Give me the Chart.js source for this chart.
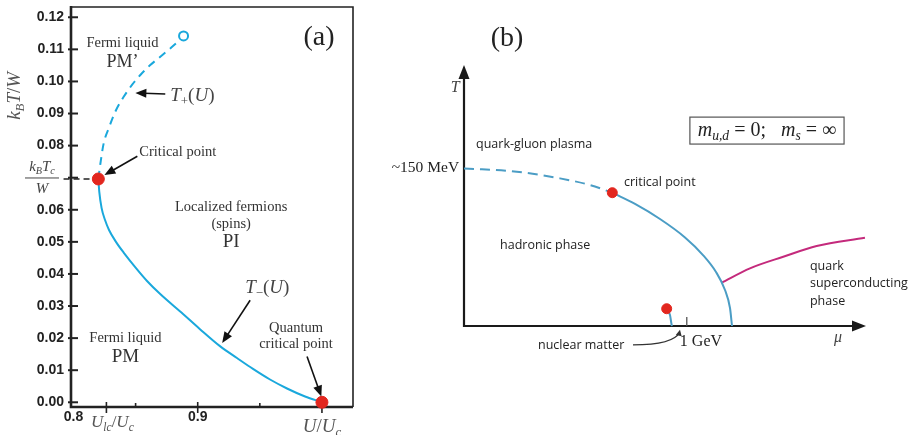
<!DOCTYPE html>
<html>
<head>
<meta charset="utf-8">
<script src="https://cdn.jsdelivr.net/npm/chart.js@4.4.1/dist/chart.umd.min.js"></script>
<style>
  html, body { margin: 0; padding: 0; background: #fff; }
  #wrap { position: relative; width: 914px; height: 435px; }
  #wrap canvas { position: absolute; left: 0; top: 0; }
</style>
</head>
<body>
<div id="wrap">
  <canvas id="chartA" width="914" height="435"></canvas>
  <canvas id="chartB" width="914" height="435"></canvas>
</div>
<script>
// ---------- (a) U/Uc vs kBT/W ----------
const tPlusU  = [0.8200, 0.8217, 0.8243, 0.8284, 0.8337, 0.8404, 0.8471, 0.8538, 0.8618, 0.8699, 0.8779, 0.8859, 0.8886];
const tPlusT  = [0.0696, 0.0745, 0.0807, 0.0854, 0.0906, 0.0952, 0.0989, 0.1020, 0.1051, 0.1077, 0.1103, 0.1131, 0.1142];
const tMinusU = [0.8200, 0.8208, 0.8226, 0.8254, 0.8286, 0.8342, 0.8407, 0.8495, 0.8592, 0.8696, 0.8882, 0.9018, 0.9179, 0.9316, 0.9445, 0.9582, 0.9719, 0.9864, 1.0];
const tMinusT = [0.0696, 0.0655, 0.0606, 0.0568, 0.0537, 0.0500, 0.0465, 0.0422, 0.0378, 0.0338, 0.0275, 0.0228, 0.0175, 0.0138, 0.0104, 0.0071, 0.0043, 0.0018, 0.0];
const critA   = [0.8200, 0.0696];
const qcpA    = [1.0, 0.0];
const endA    = [0.8886, 0.1142];
const tcLineU = [0.792, 0.8200];
const ulcA    = 0.8265;
const yTicksA = [0, 0.01, 0.02, 0.03, 0.04, 0.05, 0.06, 0.07, 0.08, 0.09, 0.10, 0.11, 0.12];
const xLabelsA = [0.8, 0.9];
const xMinorA  = [0.85, 0.95];

// ---------- (b) QCD phase diagram, mu (GeV) vs T (MeV) ----------
const muDash  = [0, 0.2365, 0.4309, 0.5655, 0.6657];
const tDash   = [149.7, 146.5, 140.2, 133.9, 126.6];
const muSolid = [0.6657, 0.7676, 0.8798, 0.9920, 1.0728, 1.1312, 1.1716, 1.1940, 1.2030];
const tSolid  = [126.6, 115.9, 101.6, 84.1, 67.4, 51.3, 34.2, 17.1, 0];
const muCsc   = [1.1554, 1.2837, 1.4331, 1.5830, 1.7998];
const tCsc    = [41, 54.8, 65.8, 76.0, 83.8];
const muNuc   = [0.9098, 0.9246, 0.9322, 0.9336];
const tNuc    = [16.4, 10.4, 0.9, 0];
const critB   = [0.6657, 126.6];
const nucB    = [0.9098, 16.4];

const CYAN = '#1aa8dc', RED = '#e2271f', BLUE = '#4b9dc5', MAGENTA = '#c42a7c';
const SERIF = '"Liberation Serif", "DejaVu Serif", serif';
const SANS  = '"Open Sans", "DejaVu Sans", sans-serif';

const pts = (xs, ys) => xs.map((v, i) => ({ x: v, y: ys[i] }));

// text with italic / subscript pieces: [text, style]  style: 'i' italic, 's' subscript, 'u' upright
function rich(ctx, parts, x, y, size, align, color) {
  const fontOf = p => (p[1].includes('i') ? 'italic ' : '') + (p[1].includes('s') ? size * 0.68 : size) + 'px ' + SERIF;
  let w = 0;
  parts.forEach(p => { ctx.font = fontOf(p); w += ctx.measureText(p[0]).width; });
  let cx = align === 'center' ? x - w / 2 : align === 'right' ? x - w : x;
  ctx.fillStyle = color || '#444';
  ctx.textAlign = 'left';
  ctx.textBaseline = 'middle';
  parts.forEach(p => {
    ctx.font = fontOf(p);
    ctx.fillText(p[0], cx, p[1].includes('s') ? y + size * 0.28 : y);
    cx += ctx.measureText(p[0]).width;
  });
}

function text(ctx, s, x, y, font, align, color) {
  ctx.font = font;
  ctx.fillStyle = color || '#333';
  ctx.textAlign = align || 'center';
  ctx.textBaseline = 'middle';
  ctx.fillText(s, x, y);
}

function arrow(ctx, x1, y1, x2, y2, L, W) {
  L = L || 11; W = W || 4.5;
  const a = Math.atan2(y2 - y1, x2 - x1), c = Math.cos(a), s = Math.sin(a);
  ctx.beginPath();
  ctx.moveTo(x1, y1);
  ctx.lineTo(x2 - c * L * 0.8, y2 - s * L * 0.8);
  ctx.stroke();
  ctx.beginPath();
  ctx.moveTo(x2, y2);
  ctx.lineTo(x2 - L * c + W * s, y2 - L * s - W * c);
  ctx.lineTo(x2 - L * c - W * s, y2 - L * s + W * c);
  ctx.closePath();
  ctx.fill();
}

// ─────────────────────────────────────────────────────────────
const frameA = {
  id: 'frameA',
  beforeDatasetsDraw(chart) {
    const { ctx, chartArea: a, scales: { x, y } } = chart;
    ctx.save();
    ctx.strokeStyle = '#222';
    ctx.lineWidth = 1.6;
    ctx.beginPath();
    ctx.moveTo(a.left, a.top); ctx.lineTo(a.right, a.top); ctx.lineTo(a.right, a.bottom);
    ctx.stroke();
    ctx.lineWidth = 2.6;
    ctx.beginPath();
    ctx.moveTo(a.left, a.top - 1); ctx.lineTo(a.left, a.bottom); ctx.lineTo(a.right, a.bottom);
    ctx.stroke();

    // y ticks across the axis
    ctx.lineWidth = 2;
    yTicksA.forEach(v => {
      const py = y.getPixelForValue(v);
      ctx.beginPath(); ctx.moveTo(a.left - 3, py); ctx.lineTo(a.left + 7, py); ctx.stroke();
    });
    // x ticks
    ctx.lineWidth = 1.6;
    xMinorA.forEach(v => {
      const px = x.getPixelForValue(v);
      ctx.beginPath(); ctx.moveTo(px, a.bottom); ctx.lineTo(px, a.bottom - 4); ctx.stroke();
    });
    [0.9, ulcA].forEach(v => {
      const px = x.getPixelForValue(v);
      ctx.beginPath(); ctx.moveTo(px, a.bottom - 5); ctx.lineTo(px, a.bottom + 6); ctx.stroke();
    });
    const p1 = x.getPixelForValue(1.0);
    ctx.beginPath(); ctx.moveTo(p1, a.bottom); ctx.lineTo(p1, a.bottom + 6); ctx.stroke();
    ctx.restore();
  },
  afterDraw(chart) {
    const { ctx, chartArea: a, scales: { x, y } } = chart;
    const X = v => x.getPixelForValue(v), Y = v => y.getPixelForValue(v);
    ctx.save();

    // axis titles
    ctx.save();
    ctx.translate(15, Y(0.0955));
    ctx.rotate(-Math.PI / 2);
    rich(ctx, [['k', 'i'], ['B', 'is'], ['T', 'i'], ['/', 'u'], ['W', 'i']], 0, 0, 19, 'center', '#555');
    ctx.restore();
    rich(ctx, [['U', 'i'], ['lc', 'is'], ['/', 'u'], ['U', 'i'], ['c', 'is']], X(ulcA) + 6, a.bottom + 16, 17, 'center', '#555');
    rich(ctx, [['U', 'i'], ['/', 'u'], ['U', 'i'], ['c', 'is']], X(1.0), a.bottom + 20, 19, 'center', '#555');

    // kBTc/W fraction label
    const yc = Y(critA[1]);
    rich(ctx, [['k', 'i'], ['B', 'is'], ['T', 'i'], ['c', 'is']], 42, yc - 12, 15, 'center', '#444');
    ctx.strokeStyle = '#444'; ctx.lineWidth = 1;
    ctx.beginPath(); ctx.moveTo(25, yc - 1); ctx.lineTo(59, yc - 1); ctx.stroke();
    rich(ctx, [['W', 'i']], 42, yc + 10, 15, 'center', '#444');

    // panel letter
    text(ctx, '(a)', X(0.9976), Y(0.1135), '28px ' + SERIF, 'center', '#222');

    // region labels
    const f = '14.5px ' + SERIF, big = '18px ' + SERIF;
    text(ctx, 'Fermi liquid', X(0.8394), Y(0.1120), f);
    text(ctx, 'PM’', X(0.8394), Y(0.1061), big);
    text(ctx, 'Critical point', X(0.8530), Y(0.0780), f, 'left');
    text(ctx, 'Localized fermions', X(0.9269), Y(0.0608), f);
    text(ctx, '(spins)', X(0.9269), Y(0.0555), f);
    text(ctx, 'PI', X(0.9269), Y(0.0499), '19px ' + SERIF);
    text(ctx, 'Fermi liquid', X(0.8418), Y(0.0200), f);
    text(ctx, 'PM', X(0.8418), Y(0.0140), '19px ' + SERIF);
    text(ctx, 'Quantum', X(0.9791), Y(0.0231), f);
    text(ctx, 'critical point', X(0.9791), Y(0.0181), f);
    rich(ctx, [['T', 'i'], ['+', 's'], ['(', 'u'], ['U', 'i'], [')', 'u']], X(0.8779), Y(0.0954), 19, 'left', '#444');
    rich(ctx, [['T', 'i'], ['−', 's'], ['(', 'u'], ['U', 'i'], [')', 'u']], X(0.9382), Y(0.0356), 19, 'left', '#444');

    // arrows
    ctx.strokeStyle = '#111'; ctx.fillStyle = '#111'; ctx.lineWidth = 1.6;
    arrow(ctx, X(0.8739), Y(0.0961), X(0.8498), Y(0.0964));
    arrow(ctx, X(0.8514), Y(0.0767), X(0.8249), Y(0.0708));
    arrow(ctx, X(0.9422), Y(0.0318), X(0.9197), Y(0.0185));
    arrow(ctx, X(0.9880), Y(0.0143), X(0.9995), Y(0.0018));
    ctx.restore();
  }
};

new Chart(document.getElementById('chartA'), {
  type: 'line',
  data: {
    datasets: [
      { data: pts([endA[0]], [endA[1]]), showLine: false, pointRadius: 4.5, pointBorderWidth: 2,
        pointBackgroundColor: '#fff', pointBorderColor: CYAN, clip: false },
      { data: pts([critA[0], qcpA[0]], [critA[1], qcpA[1]]), showLine: false, pointRadius: 6,
        pointBackgroundColor: RED, pointBorderColor: RED, clip: false },
      { data: pts(tPlusU, tPlusT), borderColor: CYAN, borderWidth: 2, borderDash: [8, 6],
        cubicInterpolationMode: 'monotone', pointRadius: 0 },
      { data: pts(tMinusU, tMinusT), borderColor: CYAN, borderWidth: 2, cubicInterpolationMode: 'monotone',
        pointRadius: 0, clip: false },
      { data: pts(tcLineU, [critA[1], critA[1]]), borderColor: '#222', borderWidth: 1.6, borderDash: [6, 4],
        pointRadius: 0, clip: false }
    ]
  },
  options: {
    responsive: false,
    animation: false,
    events: [],
    layout: { padding: { left: 5, top: 7, right: 561, bottom: 0 } },
    plugins: { legend: { display: false }, tooltip: { enabled: false } },
    scales: {
      x: {
        type: 'linear', min: 0.798, max: 1.025,
        afterBuildTicks: s => { s.ticks = xLabelsA.map(v => ({ value: v })); },
        afterFit: s => { s.height = 28; s.paddingLeft = 0; s.paddingRight = 0; },
        grid: { display: false, drawTicks: false, tickLength: 0 }, border: { display: false },
        ticks: { padding: 2, color: '#222', font: { family: 'Liberation Sans', size: 14, weight: 'bold' },
                 callback: v => v.toFixed(1), maxRotation: 0 }
      },
      y: {
        type: 'linear', min: -0.00147, max: 0.1232,
        afterBuildTicks: s => { s.ticks = yTicksA.map(v => ({ value: v })); },
        afterFit: s => { s.width = 66; s.paddingTop = 0; s.paddingBottom = 0; },
        grid: { display: false, drawTicks: false, tickLength: 0 }, border: { display: false },
        ticks: { padding: 7, color: '#222', font: { family: 'Liberation Sans', size: 14, weight: 'bold' },
                 callback: v => Math.abs(v - 0.07) < 1e-6 ? '' : v.toFixed(2) }
      }
    }
  },
  plugins: [frameA]
});

// ─────────────────────────────────────────────────────────────
const frameB = {
  id: 'frameB',
  beforeDatasetsDraw(chart) {
    const { ctx, chartArea: a, scales: { x, y } } = chart;
    ctx.save();
    ctx.strokeStyle = '#1a1a1a'; ctx.fillStyle = '#1a1a1a'; ctx.lineWidth = 2.2;
    arrow(ctx, a.left, a.bottom + 1, a.left, a.top - 2, 14, 5.5);
    arrow(ctx, a.left - 1, a.bottom, a.right + 1, a.bottom, 14, 5.5);
    // 1 GeV tick
    ctx.strokeStyle = '#555'; ctx.lineWidth = 1.3;
    const g = x.getPixelForValue(1.0);
    ctx.beginPath(); ctx.moveTo(g, a.bottom); ctx.lineTo(g, y.getPixelForValue(8.5)); ctx.stroke();
    ctx.restore();
  },
  afterDraw(chart) {
    const { ctx, scales: { x, y } } = chart;
    const X = v => x.getPixelForValue(v), Y = v => y.getPixelForValue(v);
    ctx.save();
    const f = '12.5px ' + SANS;
    text(ctx, '(b)', X(0.193), Y(273), '28px ' + SERIF, 'center', '#222');
    rich(ctx, [['T', 'i']], X(-0.04), Y(226), 16, 'center', '#444');
    rich(ctx, [['μ', 'i']], X(1.679), Y(-11.4), 16, 'center', '#444');
    text(ctx, '~150 MeV', X(-0.022), Y(150), '15.5px ' + SERIF, 'right', '#222');
    text(ctx, '1 GeV', X(0.969), Y(-15.2), '16px ' + SERIF, 'left', '#222');
    text(ctx, 'quark-gluon plasma', X(0.054), Y(172.8), f, 'left', '#222');
    text(ctx, 'critical point', X(0.718), Y(136.7), f, 'left', '#222');
    text(ctx, 'hadronic phase', X(0.162), Y(76.9), f, 'left', '#222');
    text(ctx, 'quark', X(1.553), Y(57), f, 'left', '#222');
    text(ctx, 'superconducting', X(1.553), Y(40.8), f, 'left', '#222');
    text(ctx, 'phase', X(1.553), Y(23.7), f, 'left', '#222');
    text(ctx, 'nuclear matter', X(0.332), Y(-18), f, 'left', '#222');

    // mass box
    ctx.strokeStyle = '#555'; ctx.lineWidth = 1.2;
    ctx.strokeRect(X(1.014), Y(198.4), X(1.706) - X(1.014), Y(172.8) - Y(198.4));
    rich(ctx, [['m', 'i'], ['u,d', 'is'], [' = 0;   ', 'u'], ['m', 'i'], ['s', 'is'], [' = ∞', 'u']],
         X(1.36), Y(185.6), 20, 'center', '#222');

    // curved arrow to nuclear matter
    ctx.strokeStyle = '#333'; ctx.fillStyle = '#333'; ctx.lineWidth = 1.3;
    ctx.beginPath();
    ctx.moveTo(X(0.7585), Y(-18));
    ctx.quadraticCurveTo(X(0.94), Y(-18), X(0.968), Y(-6));
    ctx.stroke();
    arrow(ctx, X(0.966), Y(-7), X(0.9695), Y(-3.5), 6, 3);
    ctx.restore();
  }
};

new Chart(document.getElementById('chartB'), {
  type: 'line',
  data: {
    datasets: [
      { data: pts([critB[0], nucB[0]], [critB[1], nucB[1]]), showLine: false, pointRadius: 5,
        pointBackgroundColor: RED, pointBorderColor: RED, clip: false },
      { data: pts(muDash, tDash), borderColor: BLUE, borderWidth: 2, borderDash: [10, 6],
        cubicInterpolationMode: 'monotone', pointRadius: 0, clip: false },
      { data: pts(muSolid, tSolid), borderColor: BLUE, borderWidth: 2, cubicInterpolationMode: 'monotone',
        pointRadius: 0, clip: false },
      { data: pts(muCsc, tCsc), borderColor: MAGENTA, borderWidth: 2, cubicInterpolationMode: 'monotone',
        pointRadius: 0, clip: false },
      { data: pts(muNuc, tNuc), borderColor: BLUE, borderWidth: 2, cubicInterpolationMode: 'monotone',
        pointRadius: 0, clip: false }
    ]
  },
  options: {
    responsive: false,
    animation: false,
    events: [],
    layout: { padding: { left: 464, top: 67, right: 49, bottom: 109 } },
    plugins: { legend: { display: false }, tooltip: { enabled: false } },
    scales: {
      x: { type: 'linear', min: 0, max: 1.8, display: false },
      y: { type: 'linear', min: 0, max: 246, display: false }
    }
  },
  plugins: [frameB]
});
</script>
</body>
</html>
